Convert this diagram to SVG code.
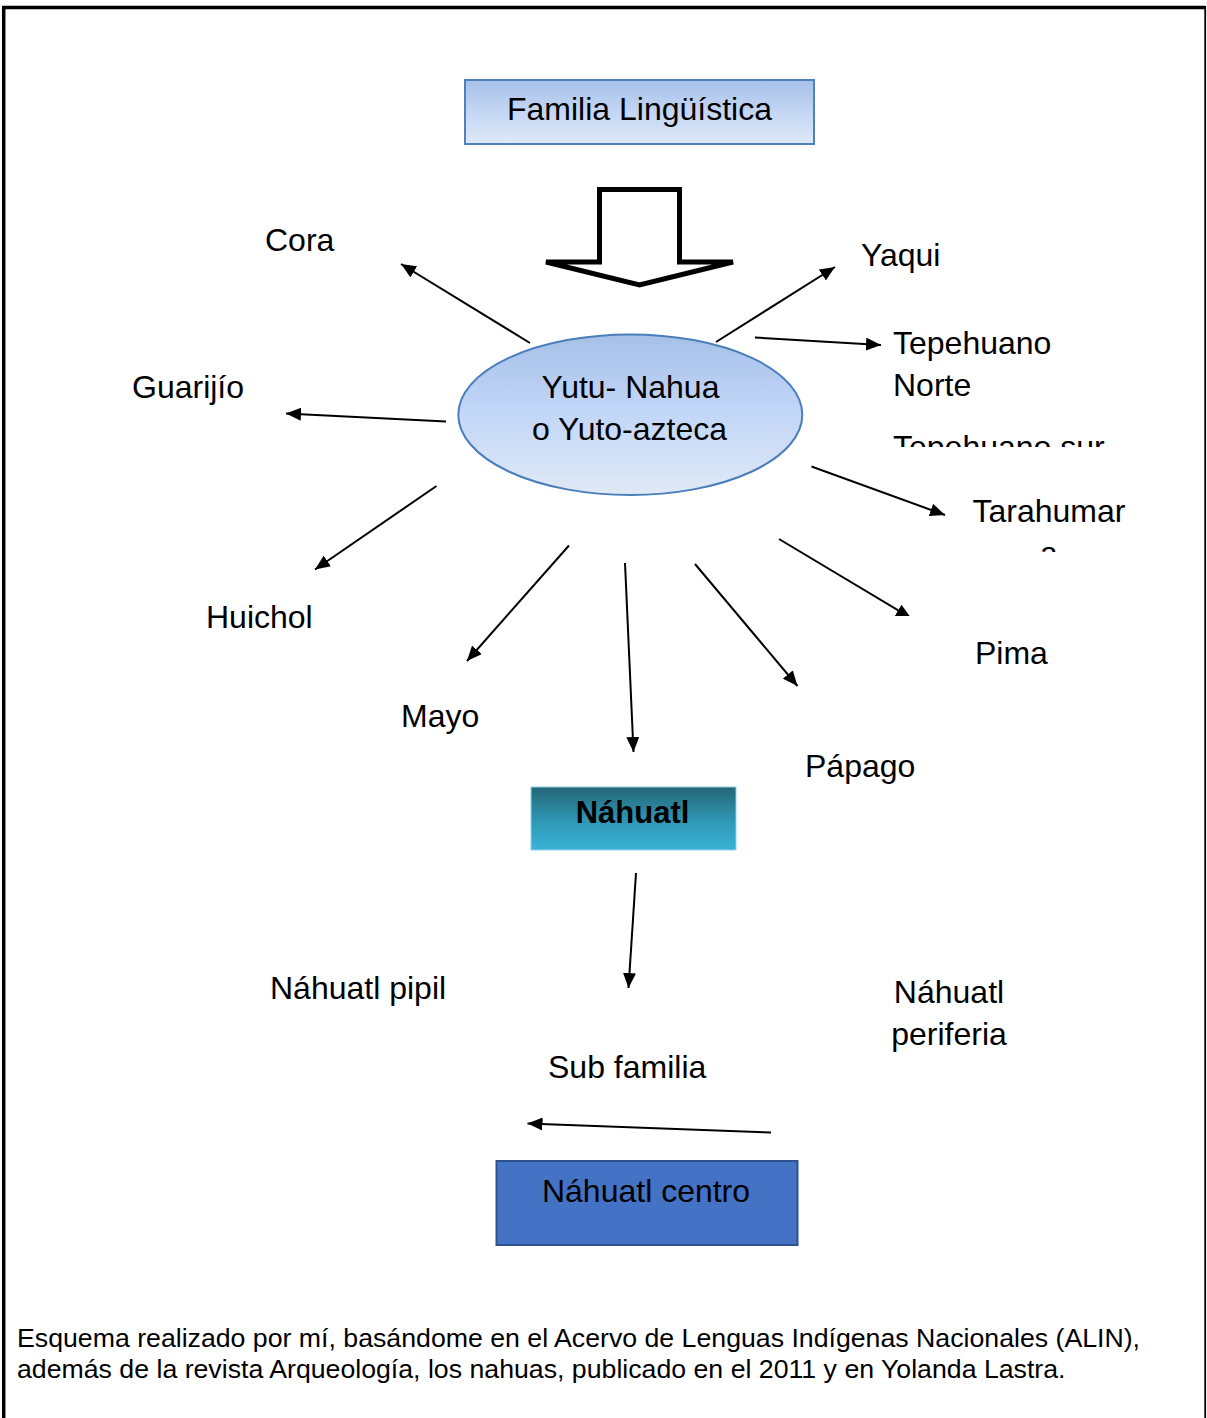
<svg xmlns="http://www.w3.org/2000/svg" width="1207" height="1418" viewBox="0 0 1207 1418">
<style>
text{font-family:"Liberation Sans",Arial,sans-serif;fill:#000;}
.lbl{font-size:32px;}
.mid{text-anchor:middle;}
.foot{font-size:26.7px;}
.conn line{stroke:#000;stroke-width:2;fill:none;marker-end:url(#ah);}
</style>
<defs>
<marker id="ah" markerUnits="userSpaceOnUse" markerWidth="15" markerHeight="13" refX="15" refY="6.5" orient="auto">
<path d="M0,0 L15,6.5 L0,13 z" fill="#000"/>
</marker>
<linearGradient id="gTop" x1="0" y1="0" x2="0" y2="1">
<stop offset="0" stop-color="#a7c1e8"/>
<stop offset="0.5" stop-color="#c3d6f4"/>
<stop offset="1" stop-color="#dfe9f6"/>
</linearGradient>
<linearGradient id="gEll" x1="0" y1="0" x2="0" y2="1">
<stop offset="0" stop-color="#a6c0e6"/>
<stop offset="0.45" stop-color="#c0d5f8"/>
<stop offset="1" stop-color="#e0e9f5"/>
</linearGradient>
<linearGradient id="gNah" x1="0" y1="0" x2="0" y2="1">
<stop offset="0" stop-color="#256676"/>
<stop offset="0.55" stop-color="#2f98b6"/>
<stop offset="1" stop-color="#39b3d6"/>
</linearGradient>
<clipPath id="cTs"><rect x="880" y="400" width="300" height="47"/></clipPath>
<clipPath id="cTa"><rect x="950" y="480" width="230" height="72"/></clipPath>
<clipPath id="cPi"><rect x="760" y="520" width="200" height="96"/></clipPath>
</defs>
<rect width="1207" height="1418" fill="#fff"/>
<path d="M3.7,1418 V7.5 H1205" fill="none" stroke="#000" stroke-width="3.5"/>
<path d="M1205.2,6 V1418" fill="none" stroke="#000" stroke-width="1.8"/>

<g id="familia">
<rect x="465" y="80" width="349" height="64" fill="url(#gTop)" stroke="#4f81bd" stroke-width="2"/>
<text class="lbl mid" x="639.5" y="120">Familia Lingüística</text>
</g>

<g id="flecha-grande">
<path d="M599.5,189.5 H679.5 V262 H733 L639.5,285 L546,262 H599.5 Z" fill="#fff" stroke="#000" stroke-width="5"/>
</g>

<g id="yuto">
<ellipse cx="630.3" cy="414.7" rx="172" ry="80.3" fill="url(#gEll)" stroke="#4a7ebb" stroke-width="2"/>
<text class="lbl mid" x="630.5" y="398">Yutu- Nahua</text>
<text class="lbl mid" x="629.5" y="440">o Yuto-azteca</text>
</g>

<g id="cora"><text class="lbl" x="265" y="251">Cora</text></g>
<g id="yaqui"><text class="lbl" x="861" y="266">Yaqui</text></g>
<g id="tepehuano-norte"><text class="lbl" x="893" y="354">Tepehuano</text><text class="lbl" x="893" y="396">Norte</text></g>
<g id="tepehuano-sur" clip-path="url(#cTs)"><text class="lbl" x="893" y="458">Tepehuano sur</text></g>
<g id="tarahumara" clip-path="url(#cTa)"><text class="lbl mid" x="1049" y="522">Tarahumar</text><text class="lbl mid" x="1049" y="564">a</text></g>
<g id="guarijio"><text class="lbl" x="132" y="398">Guarijío</text></g>
<g id="huichol"><text class="lbl" x="206" y="628">Huichol</text></g>
<g id="mayo"><text class="lbl" x="401" y="727">Mayo</text></g>
<g id="pima"><text class="lbl" x="975" y="664">Pima</text></g>
<g id="papago"><text class="lbl" x="805" y="777">Pápago</text></g>

<g id="nahuatl">
<rect x="531" y="787" width="205" height="63" fill="url(#gNah)" stroke="#8dd3ea" stroke-width="1"/>
<text class="mid" x="632.5" y="823" style="font-size:31px;font-weight:bold;">Náhuatl</text>
</g>

<g id="nahuatl-pipil"><text class="lbl" x="270" y="999">Náhuatl pipil</text></g>
<g id="nahuatl-periferia"><text class="lbl mid" x="949" y="1003">Náhuatl</text><text class="lbl mid" x="949" y="1045">periferia</text></g>
<g id="sub-familia"><text class="lbl" x="548" y="1078">Sub familia</text></g>

<g id="nahuatl-centro">
<rect x="496.5" y="1161" width="301" height="84" fill="#4472c4" stroke="#2f528f" stroke-width="2"/>
<text class="lbl mid" x="646" y="1202">Náhuatl centro</text>
</g>

<g id="connectors" class="conn">
<line x1="530" y1="343" x2="401" y2="264"/>
<line x1="446" y1="421.5" x2="286" y2="413.5"/>
<line x1="716" y1="342" x2="835" y2="267"/>
<line x1="755" y1="337.5" x2="881" y2="345"/>
<line x1="811.5" y1="466.5" x2="945" y2="515"/>
<g clip-path="url(#cPi)"><line x1="779" y1="539" x2="911" y2="618"/></g>
<line x1="436.5" y1="486" x2="315" y2="569.5"/>
<line x1="569" y1="545.5" x2="467" y2="661"/>
<line x1="625" y1="563" x2="633.5" y2="752"/>
<line x1="695" y1="564" x2="797.5" y2="686"/>
<line x1="636" y1="873" x2="628.5" y2="988"/>
<line x1="771" y1="1132.5" x2="527.5" y2="1123.5"/>
</g>

<g id="nota">
<text class="foot" x="17" y="1347">Esquema realizado por mí, basándome en el Acervo de Lenguas Indígenas Nacionales (ALIN),</text>
<text class="foot" x="17" y="1378">además de la revista Arqueología, los nahuas, publicado en el 2011 y en Yolanda Lastra.</text>
</g>
</svg>
